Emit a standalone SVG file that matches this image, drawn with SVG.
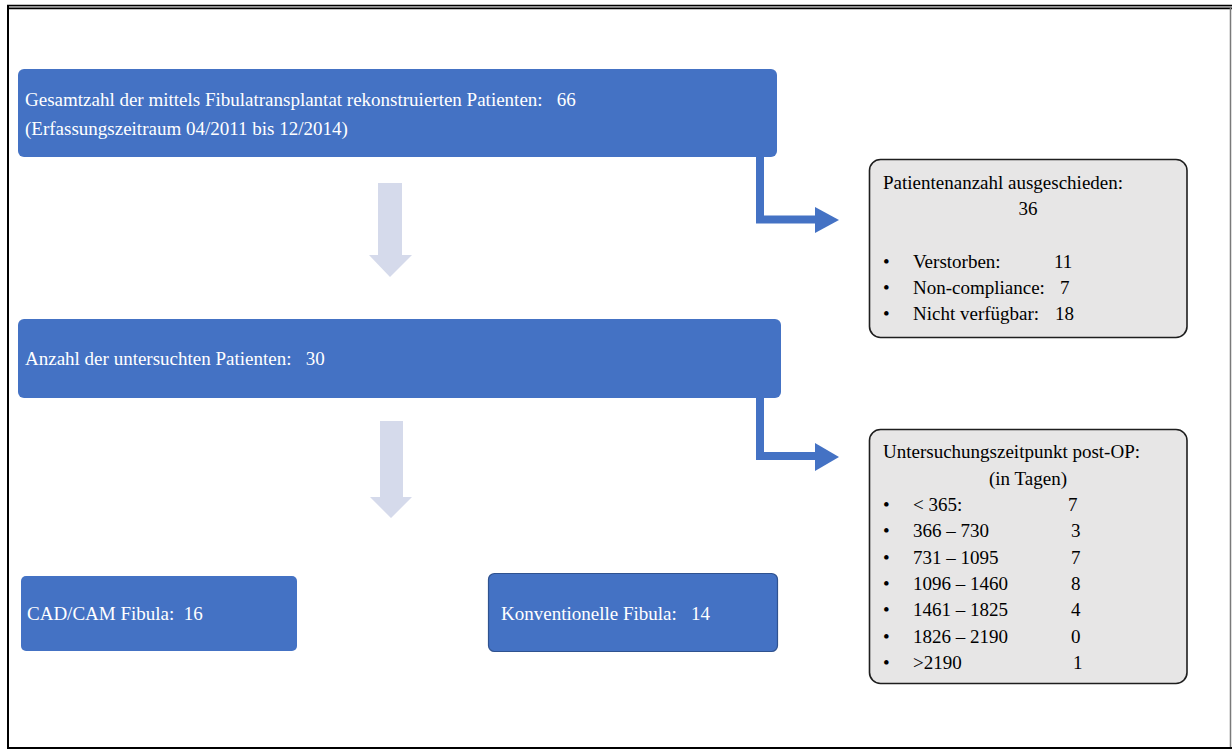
<svg xmlns="http://www.w3.org/2000/svg" width="1232" height="749" viewBox="0 0 1232 749" xml:space="preserve">
  <style>
    text { font-family: "Liberation Serif", "Times New Roman", serif; font-size: 19px; white-space: pre; }
    .wt { fill: #ffffff; }
    .bk { fill: #000000; }
    .blue { fill: #4472c4; }
    .gray { fill: #e7e6e6; stroke: #1e1e1e; stroke-width: 1.6; }
    .light { fill: #d5daeb; }
    .conn { fill: none; stroke: #4472c4; stroke-width: 8; }
    .head { fill: #4472c4; }
  </style>
  <rect x="0" y="0" width="1232" height="749" fill="#ffffff"/>
  <g id="frame">
    <line x1="7" y1="5.5" x2="1232" y2="5.5" stroke="#000" stroke-width="1.5"/>
    <line x1="7" y1="7" x2="1232" y2="7" stroke="#8a8a8a" stroke-width="1.5"/>
    <line x1="7" y1="8.5" x2="1232" y2="8.5" stroke="#000" stroke-width="1.5"/>
    <line x1="8" y1="5" x2="8" y2="749" stroke="#000" stroke-width="2"/>
    <line x1="1230.5" y1="8" x2="1230.5" y2="749" stroke="#7a7a7a" stroke-width="1.5"/>
    <line x1="7" y1="748" x2="1232" y2="748" stroke="#000" stroke-width="2"/>
  </g>
  <g id="connectors">
    <polygon class="light" points="378,183 402,183 402,255 412,255 390,277 369,255 378,255"/>
    <polygon class="light" points="380,421 403,421 403,497 412,497 391,518 370,497 380,497"/>
    <polyline class="conn" points="760,156 760,219.5 816,219.5"/>
    <polygon class="head" points="815,207 839,220 815,233"/>
    <polyline class="conn" points="760,396 760,456 816,456"/>
    <polygon class="head" points="815,443 839,457 815,471"/>
  </g>
  <g id="node-total">
    <rect class="blue" x="18" y="69" width="759" height="88" rx="6"/>
    <text class="wt" x="25" y="106">Gesamtzahl der mittels Fibulatransplantat rekonstruierten Patienten:   66</text>
    <text class="wt" x="25" y="135">(Erfassungszeitraum 04/2011 bis 12/2014)</text>
  </g>
  <g id="node-excluded">
    <rect class="gray" x="869.5" y="159.5" width="317.5" height="178" rx="11"/>
    <text class="bk" x="883" y="189">Patientenanzahl ausgeschieden:</text>
    <text class="bk" x="1028" y="215" text-anchor="middle">36</text>
    <text class="bk" x="883" y="268">•</text>
    <text class="bk" x="913" y="268">Verstorben:</text>
    <text class="bk" x="1054" y="268">11</text>
    <text class="bk" x="883" y="294">•</text>
    <text class="bk" x="913" y="294">Non-compliance:</text>
    <text class="bk" x="1060" y="294">7</text>
    <text class="bk" x="883" y="320">•</text>
    <text class="bk" x="913" y="320">Nicht verfügbar:</text>
    <text class="bk" x="1055" y="320">18</text>
  </g>
  <g id="node-examined">
    <rect class="blue" x="18" y="319" width="763" height="79" rx="6"/>
    <text class="wt" x="25" y="365">Anzahl der untersuchten Patienten:   30</text>
  </g>
  <g id="node-time">
    <rect class="gray" x="869.5" y="429.5" width="317.5" height="254" rx="11"/>
    <text class="bk" x="883" y="458">Untersuchungszeitpunkt post-OP:</text>
    <text class="bk" x="1028" y="485" text-anchor="middle">(in Tagen)</text>
    <text class="bk" x="883" y="511">•</text>
    <text class="bk" x="913" y="511">&lt; 365:</text>
    <text class="bk" x="1068" y="511">7</text>
    <text class="bk" x="883" y="537">•</text>
    <text class="bk" x="913" y="537">366 – 730</text>
    <text class="bk" x="1071" y="537">3</text>
    <text class="bk" x="883" y="564">•</text>
    <text class="bk" x="913" y="564">731 – 1095</text>
    <text class="bk" x="1071" y="564">7</text>
    <text class="bk" x="883" y="590">•</text>
    <text class="bk" x="913" y="590">1096 – 1460</text>
    <text class="bk" x="1071" y="590">8</text>
    <text class="bk" x="883" y="616">•</text>
    <text class="bk" x="913" y="616">1461 – 1825</text>
    <text class="bk" x="1071" y="616">4</text>
    <text class="bk" x="883" y="643">•</text>
    <text class="bk" x="913" y="643">1826 – 2190</text>
    <text class="bk" x="1071" y="643">0</text>
    <text class="bk" x="883" y="669">•</text>
    <text class="bk" x="913" y="669">&gt;2190</text>
    <text class="bk" x="1073" y="669">1</text>
  </g>
  <g id="node-cadcam">
    <rect class="blue" x="21" y="576" width="276" height="75" rx="5"/>
    <text class="wt" x="27" y="620">CAD/CAM Fibula:  16</text>
  </g>
  <g id="node-conventional">
    <rect class="blue" x="488.5" y="573.5" width="289" height="78" rx="6" stroke="#2f528f" stroke-width="1.2"/>
    <text class="wt" x="501" y="620">Konventionelle Fibula:   14</text>
  </g>
</svg>
